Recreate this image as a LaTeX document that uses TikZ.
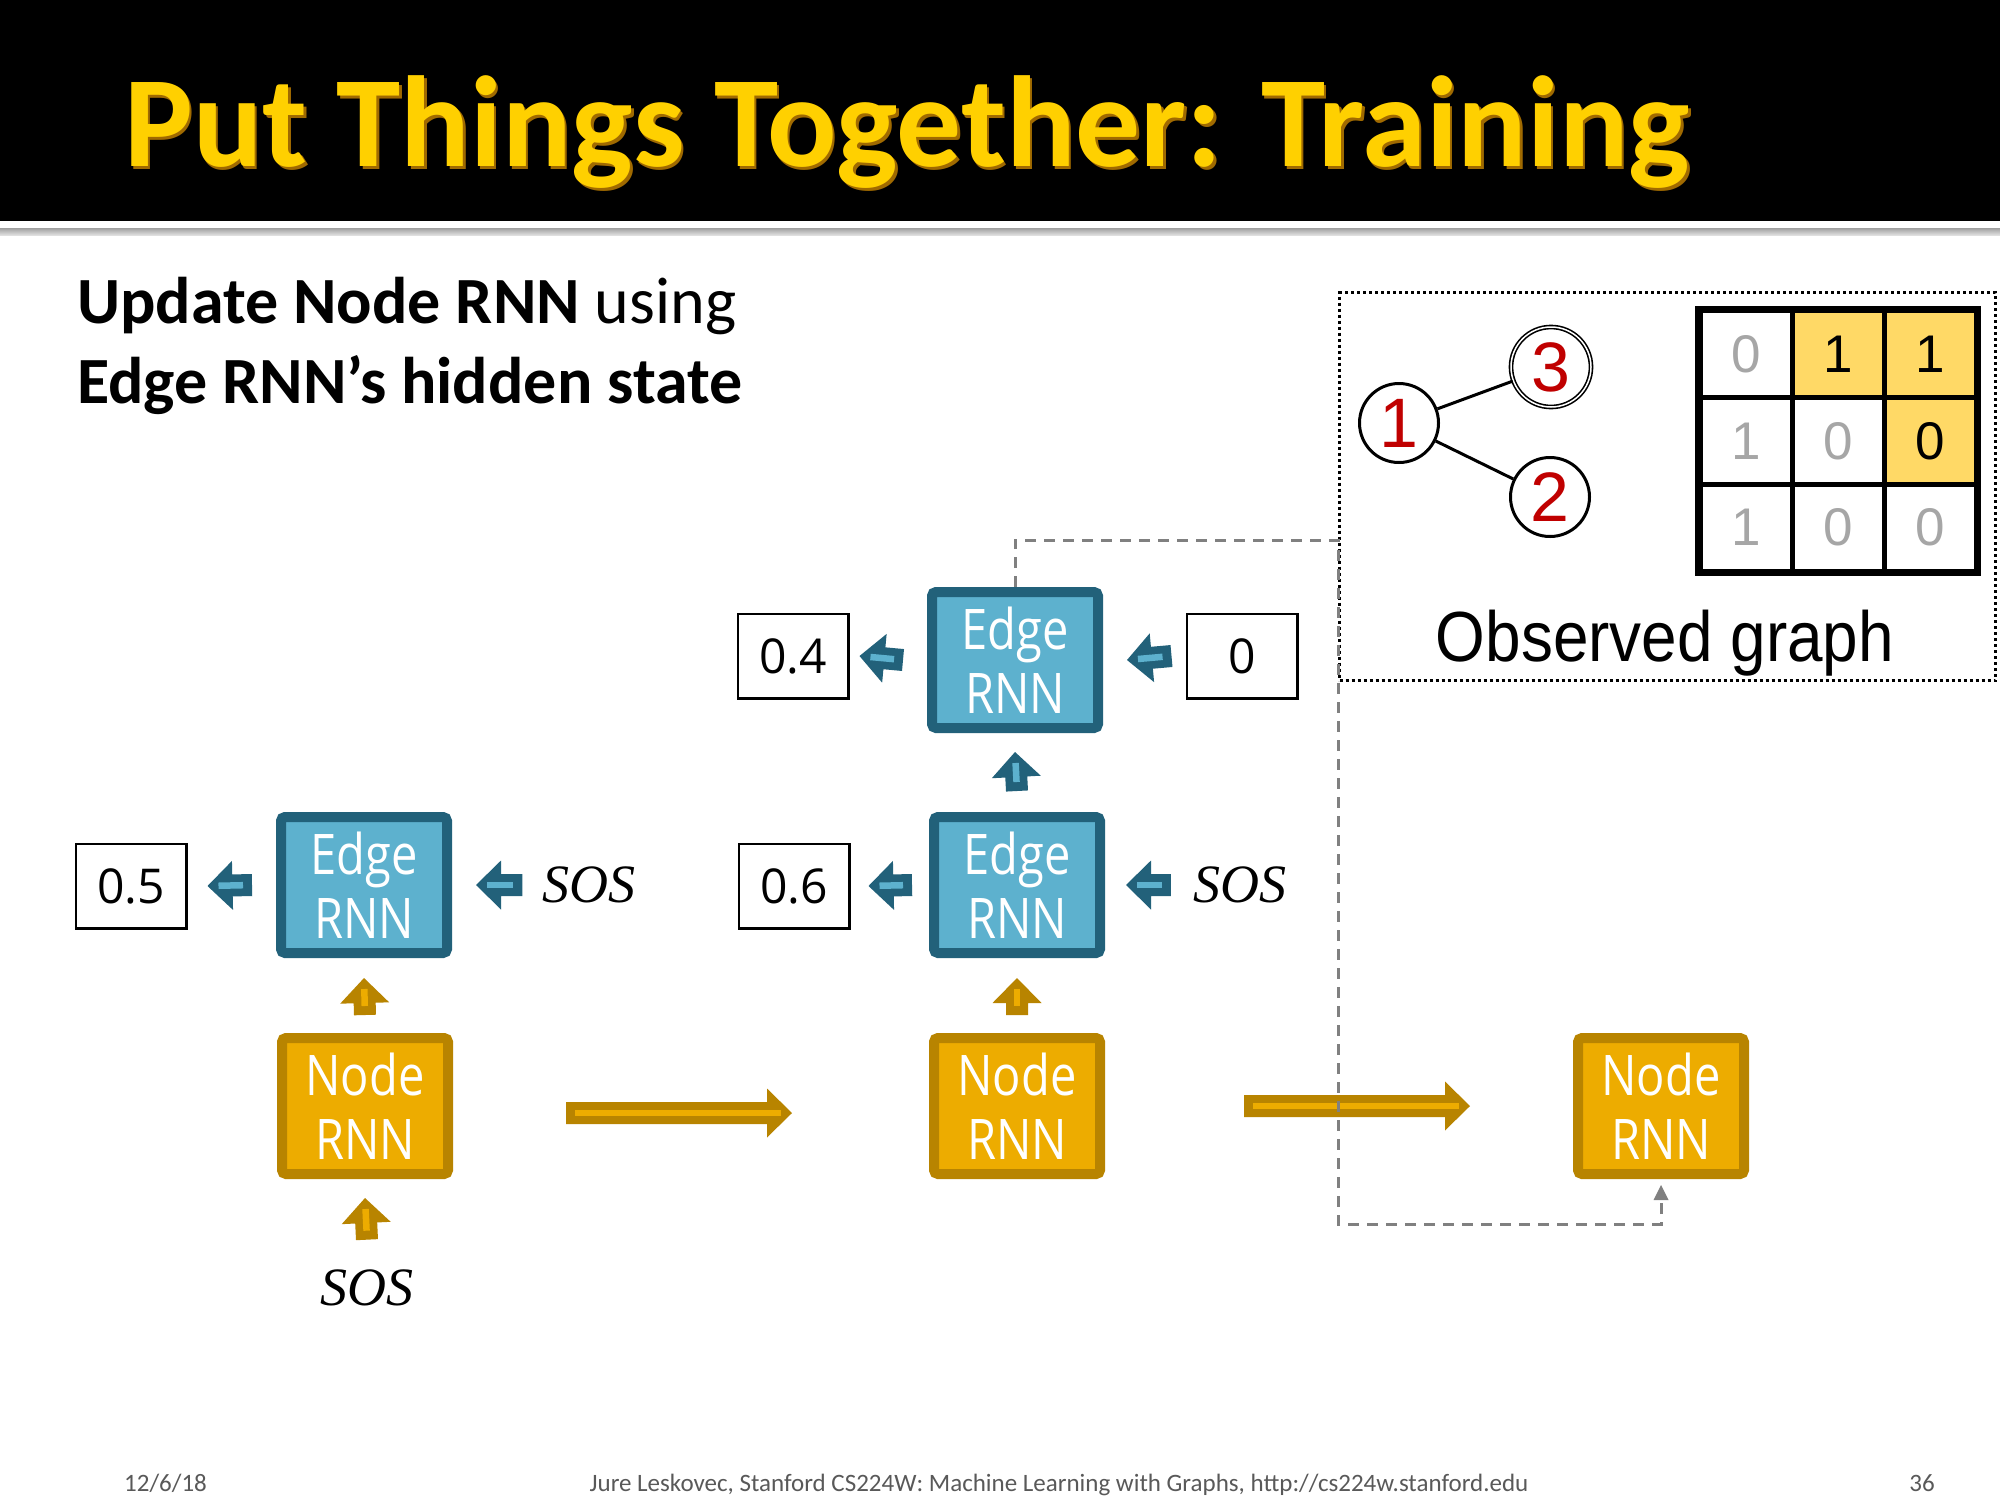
\documentclass[tikz,border=0pt]{standalone}
\usepackage{fontspec}
\setmainfont{Carlito}
\newfontfamily\boxfont{Open Sans}[FakeStretch=0.84]
\newfontfamily\numfont{Open Sans}
\newfontfamily\helv{Liberation Sans}
\newfontfamily\helvn{Liberation Sans}[FakeStretch=0.9]
\newfontfamily\seriffont{Liberation Serif}
\usetikzlibrary{calc}

\definecolor{edgefill}{HTML}{5DB1CE}
\definecolor{edgedark}{HTML}{22617A}
\definecolor{nodefill}{HTML}{EDAC00}
\definecolor{nodedark}{HTML}{B88400}
\definecolor{titleyel}{HTML}{FFD000}
\definecolor{titleshade}{HTML}{A06A00}
\definecolor{cellyel}{HTML}{FFD966}
\definecolor{numred}{HTML}{C00000}
\definecolor{dashgray}{HTML}{808080}
\definecolor{footgray}{HTML}{595959}
\definecolor{lightnum}{HTML}{A6A6A6}

% block arrow from #1 (tail) to #2 (tip): dark body #3, light inner stroke #4
\newcommand\bkarrow[4]{%
  \coordinate (bk-tail) at #1;
  \coordinate (bk-tip) at #2;
  \coordinate (bk-base) at ($(bk-tip)!25pt!(bk-tail)$);
  \fill[#3] (bk-tip)
    -- ($(bk-base)!24.5pt!90:(bk-tip)$) -- ($(bk-base)!11pt!90:(bk-tip)$)
    -- ($(bk-tail)!11pt!90:(bk-tip)$) -- ($(bk-tail)!11pt!-90:(bk-tip)$)
    -- ($(bk-base)!11pt!-90:(bk-tip)$) -- ($(bk-base)!24.5pt!-90:(bk-tip)$)
    -- cycle;
  \draw[#4, line width=6.5pt] ($(bk-tip)!11pt!(bk-tail)$) -- ($(bk-tail)!9pt!(bk-tip)$);
}

\tikzset{
  rnnbox/.style={rectangle, rounded corners=4pt, line width=10pt,
    minimum width=166pt, minimum height=136pt, inner sep=0pt,
    text=white, align=center, font=\boxfont\fontsize{56}{64}\selectfont},
  edgebox/.style={rnnbox, draw=edgedark, fill=edgefill},
  nodebox/.style={rnnbox, draw=nodedark, fill=nodefill},
  valbox/.style={draw=black, line width=2.5pt, minimum width=110.5pt,
    minimum height=84.5pt, inner sep=0pt, font=\numfont\fontsize{48}{50}\selectfont},
  soslabel/.style={inner sep=0pt, font=\seriffont\itshape\fontsize{54}{60}\selectfont},
  gnode/.style={circle, draw=black, line width=3pt, minimum size=79pt, inner sep=0pt,
    text=numred, font=\helv\fontsize{70}{72}\selectfont},
  cell/.style={rectangle, draw=black, line width=5pt, minimum width=92pt,
    minimum height=86.7pt, inner sep=0pt, font=\helv\fontsize{53}{55}\selectfont},
  dashline/.style={dashgray, line width=3pt, dash pattern=on 11pt off 8pt},
  footer/.style={inner sep=0pt, text=footgray, font=\fontsize{25}{27}\selectfont},
}

\begin{document}
\begin{tikzpicture}[x=1pt, y=-1pt]
\useasboundingbox (0,0) rectangle (2000,1500);
\fill[white] (0,0) rectangle (2000,1500);

% title bar
\fill[black] (0,0) rectangle (2000,221);
\shade[top color=gray!75, bottom color=gray!25] (0,228) rectangle (2000,235);
\node[anchor=base west, inner sep=0pt, text=titleshade,
  font=\bfseries\fontsize{129.5}{131}\selectfont] (titleshadow) at (126.5,169) {Put Things Together: Training};
\node[anchor=base west, inner sep=0pt, text=titleyel,
  font=\bfseries\fontsize{129.5}{131}\selectfont] (title) at (124,166) {Put Things Together: Training};

% heading
\node[anchor=base west, inner sep=0pt, font=\fontsize{66}{80}\selectfont] (sub1) at (77,323)
  {\textbf{Update Node RNN} using};
\node[anchor=base west, inner sep=0pt, font=\fontsize{66}{80}\selectfont] (sub2) at (77,403)
  {\textbf{Edge RNN’s hidden state}};

% observed graph panel
\node[draw=black, line width=3pt, dash pattern=on 3pt off 3pt, minimum width=656pt,
  minimum height=388pt, inner sep=0pt] (frame) at (1667.5,486.5) {};
\node[gnode] (g1) at (1399,423) {1};
\node[gnode, double, double distance=1.5pt, line width=1.6pt, minimum size=80pt] (g3) at (1551,367) {3};
\node[gnode] (g2) at (1550,497) {2};
\draw[line width=3pt] (g1) -- (g3);
\draw[line width=3pt] (g1) -- (g2);

\node[cell, text=lightnum] (m11) at (1746,354.3) {0};
\node[cell, fill=cellyel] (m12) at (1838,354.3) {1};
\node[cell, fill=cellyel] (m13) at (1930,354.3) {1};
\node[cell, text=lightnum] (m21) at (1746,441) {1};
\node[cell, text=lightnum] (m22) at (1838,441) {0};
\node[cell, fill=cellyel] (m23) at (1930,441) {0};
\node[cell, text=lightnum] (m31) at (1746,527.7) {1};
\node[cell, text=lightnum] (m32) at (1838,527.7) {0};
\node[cell, text=lightnum] (m33) at (1930,527.7) {0};
\draw[line width=5pt] (m11.north west) rectangle (m33.south east);

\node[anchor=base, inner sep=0pt, font=\helvn\fontsize{71}{75}\selectfont] (obs) at (1665,661) {Observed graph};

% RNN cells
\node[edgebox] (E1) at (364,885) {Edge\\RNN};
\node[nodebox] (N1) at (365,1106) {Node\\RNN};
\node[edgebox] (E3) at (1015,660) {Edge\\RNN};
\node[edgebox] (E2) at (1017,885) {Edge\\RNN};
\node[nodebox] (N2) at (1017,1106) {Node\\RNN};
\node[nodebox] (N3) at (1661,1106) {Node\\RNN};

% outputs and inputs
\node[valbox] (V05) at (131,886) {0.5};
\node[valbox] (V04) at (793,656) {0.4};
\node[valbox] (V0) at (1242,656) {0};
\node[valbox] (V06) at (794,886) {0.6};
\node[soslabel] (sos1) at (589,885) {SOS};
\node[soslabel] (sos2) at (1239.5,885) {SOS};
\node[soslabel] (sos3) at (367,1288) {SOS};

% edge-level arrows
\bkarrow{($(E1.west)+(-24,0)$)}{($(V05.east)+(20,0)$)}{edgedark}{edgefill}
\bkarrow{($(sos1.west)+(-20,0)$)}{($(E1.east)+(24,0)$)}{edgedark}{edgefill}
\bkarrow{($(E3.west)+(-24,0)$)}{($(V04.east)+(10,0)$)}{edgedark}{edgefill}
\bkarrow{($(V0.west)+(-14,0)$)}{($(E3.east)+(24,0)$)}{edgedark}{edgefill}
\bkarrow{($(E2.west)+(-17,0)$)}{($(V06.east)+(18,0)$)}{edgedark}{edgefill}
\bkarrow{($(sos2.west)+(-22,0)$)}{($(E2.east)+(21,0)$)}{edgedark}{edgefill}
\bkarrow{($(E2.north)+(0,-21)$)}{($(E3.south)+(0,19)$)}{edgedark}{edgefill}

% node-level arrows
\bkarrow{($(N1.north)+(0,-18)$)}{($(E1.south)+(0,20)$)}{nodedark}{nodefill}
\bkarrow{($(N2.north)+(0,-18)$)}{($(E2.south)+(0,20)$)}{nodedark}{nodefill}
\bkarrow{($(sos3.north)+(0,-30)$)}{($(N1.south)+(0,19)$)}{nodedark}{nodefill}
\bkarrow{($(N1.east)+(113,7)$)}{($(N2.west)+(-137,7)$)}{nodedark}{nodefill}
\bkarrow{($(N2.east)+(139,0)$)}{($(N3.west)+(-103,0)$)}{nodedark}{nodefill}

% teacher-forcing path from the edge RNN to the next node RNN
\coordinate (dturn) at (1338,540);
\coordinate (dlow) at (1338,1224);
\coordinate (dtip) at ($(N3.south)+(0,6)$);
\draw[dashline] (E3.north) |- (dturn) -- (dlow) -| ($(dtip)+(0,15)$);
\fill[dashgray] (dtip) -- ++(-7.5,15) -- ++(15,0) -- cycle;

% footer
\node[footer, anchor=base west] (date) at (124,1491) {12/6/18};
\node[footer, anchor=base] (credit) at (1059,1491)
  {Jure Leskovec, Stanford CS224W: Machine Learning with Graphs, http://cs224w.stanford.edu};
\node[footer, anchor=base east] (page) at (1935,1491) {36};
\end{tikzpicture}
\end{document}
